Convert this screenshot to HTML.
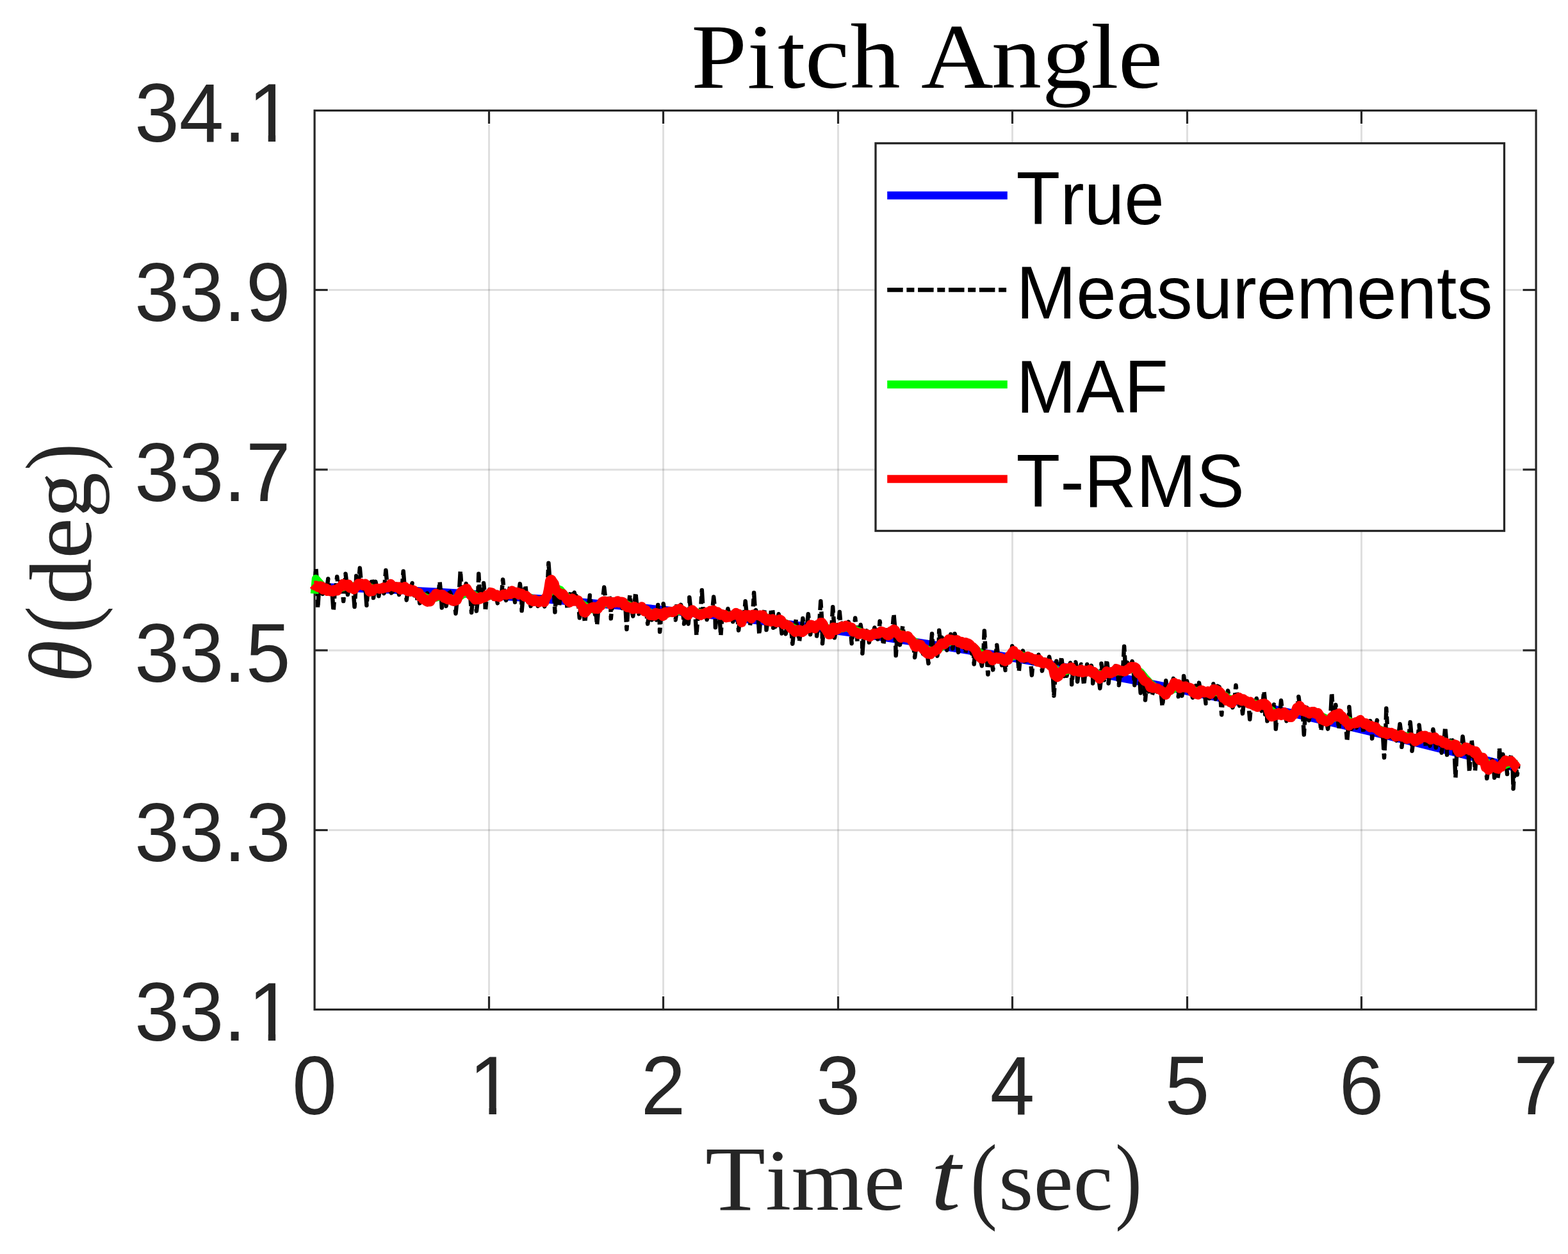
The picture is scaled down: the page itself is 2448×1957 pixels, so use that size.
<!DOCTYPE html>
<html lang="en"><head><meta charset="utf-8"><title>Pitch Angle</title>
<style>
html,body{margin:0;padding:0;background:#fff;}
body{width:2448px;height:1957px;overflow:hidden;}
svg{display:block;}
text{font-kerning:none;font-variant-ligatures:none;white-space:pre;}
.sans{font-family:"Liberation Sans",Arial,Helvetica,sans-serif;}
.serif{font-family:"Liberation Serif","Times New Roman",serif;}
.tick{font-size:125px;fill:#262626;}
.leg{font-size:112.5px;fill:#000;}
</style></head><body>
<svg width="2448" height="1957" viewBox="0 0 2448 1957">
<defs>
<clipPath id="nofoot"><rect x="-400" y="-120" width="520" height="109.36"/><rect x="-400" y="-120" width="407.16" height="160"/><rect x="31.23" y="-11.64" width="11.45" height="16.64"/></clipPath>
</defs>
<rect x="0" y="0" width="2448" height="1957" fill="#ffffff"/>
<g stroke="#262626" stroke-opacity="0.15" stroke-width="3" fill="none">
<line x1="763.5" y1="194.5" x2="763.5" y2="1553.5"/>
<line x1="1035.5" y1="194.5" x2="1035.5" y2="1553.5"/>
<line x1="1308.5" y1="194.5" x2="1308.5" y2="1553.5"/>
<line x1="1580.5" y1="194.5" x2="1580.5" y2="1553.5"/>
<line x1="1853.5" y1="194.5" x2="1853.5" y2="1553.5"/>
<line x1="2125.5" y1="194.5" x2="2125.5" y2="1553.5"/>
<line x1="513.0" y1="1295.5" x2="2376.0" y2="1295.5"/>
<line x1="513.0" y1="1014.9" x2="2376.0" y2="1014.9"/>
<line x1="513.0" y1="732.9" x2="2376.0" y2="732.9"/>
<line x1="513.0" y1="452.5" x2="2376.0" y2="452.5"/>
</g>
<g stroke="#262626" stroke-width="3.2" fill="none">
<rect x="491.1" y="172.5" width="1907.0" height="1403.0"/>
<line x1="763.5" y1="1575.5" x2="763.5" y2="1554.9"/>
<line x1="763.5" y1="172.5" x2="763.5" y2="193.1"/>
<line x1="1035.5" y1="1575.5" x2="1035.5" y2="1554.9"/>
<line x1="1035.5" y1="172.5" x2="1035.5" y2="193.1"/>
<line x1="1308.5" y1="1575.5" x2="1308.5" y2="1554.9"/>
<line x1="1308.5" y1="172.5" x2="1308.5" y2="193.1"/>
<line x1="1580.5" y1="1575.5" x2="1580.5" y2="1554.9"/>
<line x1="1580.5" y1="172.5" x2="1580.5" y2="193.1"/>
<line x1="1853.5" y1="1575.5" x2="1853.5" y2="1554.9"/>
<line x1="1853.5" y1="172.5" x2="1853.5" y2="193.1"/>
<line x1="2125.5" y1="1575.5" x2="2125.5" y2="1554.9"/>
<line x1="2125.5" y1="172.5" x2="2125.5" y2="193.1"/>
<line x1="491.1" y1="1295.5" x2="511.7" y2="1295.5"/>
<line x1="2398.0" y1="1295.5" x2="2377.4" y2="1295.5"/>
<line x1="491.1" y1="1014.9" x2="511.7" y2="1014.9"/>
<line x1="2398.0" y1="1014.9" x2="2377.4" y2="1014.9"/>
<line x1="491.1" y1="732.9" x2="511.7" y2="732.9"/>
<line x1="2398.0" y1="732.9" x2="2377.4" y2="732.9"/>
<line x1="491.1" y1="452.5" x2="511.7" y2="452.5"/>
<line x1="2398.0" y1="452.5" x2="2377.4" y2="452.5"/>
</g>
<g fill="none" stroke-linejoin="round" stroke-linecap="butt">
<path d="M491.0 916.0 L512.1 916.6 L533.2 917.2 L554.3 918.0 L575.4 918.8 L596.4 919.7 L617.5 920.6 L638.6 921.6 L659.7 922.7 L680.8 923.8 L701.9 925.0 L723.0 926.3 L744.1 927.6 L765.2 929.0 L786.3 930.4 L807.3 931.9 L828.4 933.5 L849.5 935.1 L870.6 936.8 L891.7 938.5 L912.8 940.3 L933.9 942.2 L955.0 944.1 L976.1 946.0 L997.2 948.1 L1018.2 950.1 L1039.3 952.3 L1060.4 954.5 L1081.5 956.7 L1102.6 959.0 L1123.7 961.4 L1144.8 963.8 L1165.9 966.3 L1187.0 968.8 L1208.1 971.4 L1229.1 974.0 L1250.2 976.7 L1271.3 979.5 L1292.4 982.3 L1313.5 985.2 L1334.6 988.1 L1355.7 991.1 L1376.8 994.1 L1397.9 997.2 L1419.0 1000.4 L1440.0 1003.6 L1461.1 1006.9 L1482.2 1010.2 L1503.3 1013.6 L1524.4 1017.1 L1545.5 1020.6 L1566.6 1024.2 L1587.7 1027.8 L1608.8 1031.5 L1629.9 1035.3 L1650.9 1039.1 L1672.0 1043.0 L1693.1 1046.9 L1714.2 1050.9 L1735.3 1054.9 L1756.4 1059.0 L1777.5 1063.2 L1798.6 1067.4 L1819.7 1071.7 L1840.8 1076.0 L1861.8 1080.3 L1882.9 1084.6 L1904.0 1088.9 L1925.1 1093.3 L1946.2 1097.7 L1967.3 1102.2 L1988.4 1106.7 L2009.5 1111.4 L2030.6 1116.2 L2051.7 1121.1 L2072.7 1126.0 L2093.8 1130.9 L2114.9 1135.9 L2136.0 1140.9 L2157.1 1146.0 L2178.2 1151.1 L2199.3 1156.2 L2220.4 1161.4 L2241.5 1166.7 L2262.6 1171.9 L2283.6 1177.2 L2304.7 1182.5 L2325.8 1187.8 L2346.9 1193.2 L2368.0 1198.5" stroke="#0000ff" stroke-width="12.5"/>
<path d="M493.5 913.8 L491.1 913.9 L493.3 887.1 L495.5 915.2 L496.1 949.2 L498.3 916.3 L501.7 917.5 L503.9 926.9 L506.1 919.0 L510.1 919.7 L512.3 903.3 L514.5 920.7 L518.4 922.1 L520.6 953.6 L522.8 921.8 L524.0 921.2 L526.2 899.9 L528.4 917.9 L534.0 913.9 L536.2 938.1 L538.4 912.6 L539.5 895.5 L541.7 913.4 L542.9 928.0 L545.1 915.1 L551.3 917.3 L553.5 947.0 L555.7 914.4 L556.2 898.8 L558.4 911.8 L559.6 911.2 L561.8 886.6 L564.0 910.7 L570.2 913.0 L572.4 944.7 L574.6 918.1 L578.5 922.4 L580.7 902.7 L582.9 920.8 L583.0 933.1 L585.2 919.0 L586.3 907.7 L588.5 919.0 L589.1 919.0 L591.3 930.3 L593.5 918.2 L600.2 915.3 L602.4 889.9 L604.6 914.4 L620.8 916.2 L623.0 928.0 L625.2 918.4 L627.5 918.8 L629.7 891.6 L631.9 917.9 L632.5 918.2 L634.7 936.4 L636.9 920.4 L653.1 926.3 L655.3 941.4 L657.5 932.1 L659.8 933.8 L662.0 943.6 L664.2 935.7 L684.3 928.6 L686.5 907.7 L688.7 929.4 L689.8 948.6 L692.0 930.8 L694.3 931.6 L696.5 945.9 L698.7 933.1 L709.3 937.5 L711.5 957.5 L713.7 935.4 L716.6 927.6 L718.8 891.0 L721.0 922.9 L733.9 926.6 L736.1 955.9 L738.3 932.3 L741.7 935.7 L743.9 953.6 L746.1 935.1 L747.3 895.5 L749.5 934.6 L752.9 933.1 L755.1 910.0 L757.3 931.3 L757.8 953.6 L760.0 929.4 L768.4 927.4 L770.6 934.7 L772.8 928.4 L774.6 929.1 L776.8 941.4 L779.0 931.0 L782.9 929.8 L785.1 904.4 L787.3 927.9 L787.9 927.9 L790.1 936.9 L792.3 927.9 L794.0 927.9 L796.2 915.5 L798.4 925.0 L801.8 923.8 L804.0 939.7 L806.2 925.3 L809.6 926.4 L811.8 911.1 L814.0 927.9 L814.6 953.1 L816.8 929.3 L818.0 929.9 L820.2 913.3 L822.4 932.2 L826.3 934.4 L828.5 945.9 L830.7 936.3 L837.5 937.9 L839.7 945.9 L841.9 937.9 L848.0 939.6 L850.2 946.4 L852.4 933.3 L854.2 928.9 L856.4 878.8 L858.6 908.0 L864.2 908.3 L866.4 955.3 L868.6 922.2 L870.9 925.2 L873.1 944.7 L875.3 927.4 L883.7 934.2 L885.9 950.9 L888.1 938.5 L889.2 938.1 L891.4 921.6 L893.6 936.6 L897.6 935.3 L899.8 930.0 L902.0 936.4 L902.6 936.9 L904.8 964.2 L907.0 941.6 L910.9 952.7 L913.1 971.5 L915.3 953.1 L918.7 950.9 L920.9 928.9 L923.1 949.4 L929.9 950.0 L932.1 975.4 L934.3 948.2 L941.0 935.7 L943.2 916.6 L945.4 935.7 L948.8 939.1 L951.0 928.9 L953.2 942.0 L953.8 965.3 L956.0 941.1 L969.5 939.4 L971.7 949.2 L973.9 941.9 L976.2 943.8 L978.4 982.0 L980.6 947.1 L981.2 947.6 L983.4 928.8 L985.6 950.0 L990.1 948.5 L992.3 924.9 L994.5 947.9 L995.1 947.9 L997.3 958.1 L999.5 948.4 L1001.2 949.3 L1003.4 943.3 L1005.6 951.8 L1009.0 955.2 L1011.2 973.6 L1013.4 959.0 L1022.4 959.2 L1024.6 967.5 L1026.8 959.6 L1027.3 943.9 L1029.5 960.0 L1030.1 985.9 L1032.3 959.6 L1033.5 959.2 L1035.7 942.2 L1037.9 957.8 L1038.5 964.2 L1040.7 957.0 L1044.6 955.8 L1046.8 961.4 L1049.0 955.1 L1052.4 954.4 L1054.6 967.5 L1056.8 952.9 L1056.3 941.1 L1058.5 952.4 L1060.8 952.0 L1063.0 943.9 L1065.2 951.2 L1065.8 952.1 L1068.0 973.6 L1070.2 958.3 L1072.4 960.0 L1074.6 973.6 L1076.8 953.9 L1076.3 932.2 L1078.5 952.4 L1085.2 955.1 L1087.4 991.5 L1089.6 959.0 L1093.6 959.0 L1095.8 921.0 L1098.0 957.7 L1101.4 956.8 L1103.6 967.0 L1105.8 956.8 L1106.4 956.8 L1108.6 946.1 L1110.8 954.6 L1112.0 953.8 L1114.2 931.6 L1116.4 953.5 L1116.9 979.2 L1119.1 954.8 L1123.1 957.2 L1125.3 992.0 L1127.5 960.1 L1134.2 962.4 L1136.4 950.0 L1138.6 960.9 L1142.0 959.8 L1144.2 970.3 L1146.4 958.3 L1150.9 959.3 L1153.1 983.7 L1155.3 965.1 L1161.5 965.3 L1163.7 938.3 L1165.9 959.8 L1168.7 961.3 L1170.9 975.9 L1173.1 963.5 L1174.9 961.8 L1177.1 924.9 L1179.3 958.8 L1183.2 958.1 L1185.4 990.3 L1187.6 960.1 L1191.6 962.9 L1193.8 951.7 L1196.0 966.5 L1196.5 983.1 L1198.7 967.9 L1202.1 967.9 L1204.3 951.1 L1206.5 968.4 L1206.1 952.2 L1208.3 969.0 L1207.2 979.7 L1209.4 969.4 L1213.4 969.6 L1215.6 958.3 L1217.8 968.1 L1218.4 967.9 L1220.6 988.6 L1222.8 972.3 L1224.5 974.1 L1226.7 989.2 L1228.9 975.9 L1235.1 981.5 L1237.3 1004.8 L1239.5 984.2 L1240.6 984.0 L1242.8 966.7 L1245.0 983.8 L1245.7 984.0 L1247.9 1000.9 L1250.1 985.2 L1251.2 985.6 L1253.4 965.0 L1255.6 983.8 L1259.6 981.4 L1261.8 958.3 L1264.0 977.8 L1265.1 990.3 L1267.3 977.5 L1270.7 978.7 L1272.9 968.3 L1275.1 976.4 L1275.1 992.5 L1277.3 974.6 L1279.1 973.9 L1281.3 938.3 L1283.5 973.2 L1284.0 1004.2 L1286.2 977.7 L1298.0 985.3 L1300.2 947.2 L1302.4 979.2 L1303.0 995.3 L1305.2 981.5 L1308.6 981.6 L1310.8 955.0 L1313.0 980.2 L1322.5 978.2 L1324.7 970.5 L1326.9 978.9 L1327.5 979.1 L1329.7 1004.2 L1331.9 983.5 L1333.0 984.6 L1335.2 964.4 L1337.4 986.8 L1338.6 1001.4 L1340.8 987.9 L1341.4 987.9 L1343.6 975.0 L1345.8 987.9 L1346.4 1019.8 L1348.6 988.6 L1350.9 989.2 L1353.1 984.5 L1355.3 990.5 L1356.9 1002.6 L1359.1 991.8 L1363.1 990.9 L1365.3 979.5 L1367.5 988.0 L1368.1 987.7 L1370.3 997.5 L1372.5 986.3 L1373.6 969.4 L1375.8 986.5 L1377.0 987.1 L1379.2 1006.4 L1381.4 989.1 L1382.0 989.2 L1384.2 983.3 L1386.4 990.0 L1393.2 983.6 L1395.4 958.3 L1397.6 984.0 L1398.7 1023.1 L1400.9 989.6 L1407.1 993.3 L1409.3 977.2 L1411.5 992.9 L1413.2 999.2 L1415.4 994.2 L1418.2 995.8 L1420.4 990.6 L1422.6 998.7 L1426.0 1005.4 L1428.2 1025.9 L1430.4 1007.3 L1438.8 1010.0 L1441.0 1020.4 L1443.2 1014.2 L1447.3 1017.5 L1449.5 1035.3 L1451.7 1019.4 L1452.8 1018.7 L1455.0 988.9 L1457.2 1015.7 L1461.2 1014.9 L1463.4 1023.6 L1465.6 1009.1 L1466.2 983.8 L1468.4 1005.5 L1476.2 1001.9 L1478.4 1014.6 L1480.6 999.8 L1485.1 999.0 L1487.3 1012.4 L1489.5 998.1 L1490.6 988.9 L1492.8 999.4 L1494.0 1000.1 L1496.2 1017.9 L1498.4 1002.5 L1505.1 1003.8 L1507.3 1019.1 L1509.5 1005.3 L1515.2 1007.2 L1517.4 1020.2 L1519.6 1010.1 L1520.7 1036.4 L1522.9 1013.5 L1530.7 1028.8 L1532.9 1039.2 L1535.1 1025.2 L1536.8 984.4 L1539.0 1021.4 L1540.2 1020.6 L1542.4 1052.6 L1544.6 1025.0 L1548.0 1027.8 L1550.2 1045.4 L1552.4 1028.2 L1554.1 1027.6 L1556.3 1006.7 L1558.5 1026.8 L1561.9 1026.9 L1564.1 1038.1 L1566.3 1030.4 L1567.5 1031.3 L1569.7 1045.9 L1571.9 1029.5 L1578.1 1023.0 L1580.3 1008.3 L1582.5 1017.6 L1588.6 1022.4 L1590.8 1047.6 L1593.0 1025.0 L1594.7 1025.6 L1596.9 1015.6 L1599.1 1024.7 L1608.7 1027.6 L1610.9 1053.7 L1613.1 1029.1 L1619.2 1031.1 L1621.4 1021.7 L1623.6 1031.9 L1624.8 1032.1 L1627.0 1047.0 L1629.2 1033.3 L1635.9 1034.6 L1638.1 1025.0 L1640.3 1037.1 L1643.2 1041.4 L1645.4 1085.8 L1647.6 1053.9 L1649.3 1031.7 L1651.5 1055.3 L1654.9 1051.9 L1657.1 1025.0 L1659.3 1045.1 L1663.2 1043.3 L1665.4 1054.8 L1667.6 1044.4 L1668.8 1044.2 L1671.0 1034.5 L1673.2 1044.2 L1673.2 1068.2 L1675.4 1045.5 L1677.1 1046.6 L1679.3 1033.4 L1681.5 1046.3 L1682.1 1063.7 L1684.3 1045.8 L1685.6 1045.9 L1687.8 1036.7 L1690.0 1047.7 L1692.2 1069.2 L1694.4 1048.6 L1695.0 1048.7 L1697.2 1036.7 L1699.4 1048.2 L1701.7 1047.3 L1703.9 1038.9 L1706.1 1048.5 L1706.2 1066.4 L1708.4 1049.6 L1715.1 1056.7 L1717.3 1074.2 L1719.5 1054.6 L1719.5 1035.6 L1721.7 1052.4 L1725.7 1049.8 L1727.9 1030.0 L1730.1 1048.2 L1730.6 1066.4 L1732.8 1048.7 L1739.0 1047.4 L1741.2 1039.5 L1743.4 1046.0 L1744.6 1046.7 L1746.8 1069.2 L1749.0 1048.9 L1752.9 1048.2 L1755.1 1008.8 L1757.3 1046.3 L1769.1 1039.4 L1771.3 1069.2 L1773.5 1043.9 L1778.5 1050.9 L1780.7 1081.5 L1782.9 1057.0 L1785.8 1060.9 L1788.0 1092.6 L1790.2 1066.2 L1791.3 1067.4 L1793.5 1079.2 L1795.7 1071.0 L1812.5 1079.7 L1814.7 1102.2 L1816.9 1083.0 L1818.1 1083.7 L1820.3 1062.3 L1822.5 1082.5 L1829.7 1071.3 L1831.9 1058.9 L1834.1 1066.9 L1837.5 1068.9 L1839.7 1087.0 L1841.9 1071.5 L1843.1 1072.2 L1845.3 1085.9 L1847.5 1073.2 L1848.1 1055.0 L1850.3 1072.7 L1854.2 1073.6 L1856.4 1083.7 L1858.6 1075.8 L1859.8 1076.9 L1862.0 1088.7 L1864.2 1081.3 L1869.8 1082.4 L1872.0 1065.6 L1874.2 1078.9 L1880.4 1079.7 L1882.6 1097.8 L1884.8 1080.7 L1892.1 1079.7 L1894.3 1067.3 L1896.5 1078.2 L1905.0 1083.1 L1907.2 1115.4 L1909.4 1087.1 L1914.9 1091.1 L1917.1 1077.9 L1919.3 1093.3 L1927.3 1093.0 L1929.5 1069.4 L1931.7 1089.5 L1932.8 1089.9 L1935.0 1101.4 L1937.2 1091.6 L1937.8 1091.8 L1940.0 1113.6 L1942.2 1093.3 L1949.0 1095.5 L1951.2 1122.6 L1953.4 1097.6 L1959.5 1100.2 L1961.7 1090.0 L1963.9 1101.0 L1971.2 1099.0 L1973.4 1078.9 L1975.6 1099.9 L1975.1 1114.8 L1977.3 1101.9 L1978.4 1125.3 L1980.6 1108.2 L1986.8 1118.7 L1989.0 1099.5 L1991.2 1116.0 L1991.8 1137.6 L1994.0 1114.8 L1997.9 1115.6 L2000.1 1093.3 L2002.3 1114.2 L2006.3 1114.4 L2008.5 1125.3 L2010.7 1116.2 L2025.2 1104.6 L2027.4 1087.2 L2029.6 1103.5 L2033.6 1107.4 L2035.8 1146.5 L2038.0 1111.0 L2041.4 1112.7 L2043.6 1124.2 L2045.8 1113.4 L2049.1 1112.9 L2051.3 1106.7 L2053.5 1113.2 L2060.3 1117.8 L2062.5 1140.4 L2064.7 1122.8 L2070.9 1124.9 L2073.1 1137.6 L2075.3 1122.9 L2077.0 1121.8 L2079.2 1081.1 L2081.4 1119.2 L2083.1 1118.2 L2085.3 1100.0 L2087.5 1116.4 L2088.1 1116.3 L2090.3 1137.6 L2092.5 1117.0 L2100.9 1126.9 L2103.1 1157.1 L2105.3 1131.3 L2106.4 1103.3 L2108.6 1129.1 L2120.9 1126.9 L2123.1 1120.0 L2125.3 1124.7 L2126.5 1125.5 L2128.7 1143.7 L2130.9 1129.1 L2137.1 1133.2 L2139.3 1125.1 L2141.5 1134.8 L2142.1 1152.6 L2144.3 1135.8 L2147.7 1136.9 L2149.9 1123.9 L2152.1 1138.9 L2158.8 1143.5 L2161.0 1182.3 L2163.2 1143.5 L2164.3 1105.6 L2166.5 1143.9 L2167.3 1144.2 L2169.5 1150.2 L2171.7 1145.6 L2177.8 1147.4 L2180.0 1155.8 L2182.2 1147.1 L2183.4 1146.7 L2185.6 1129.9 L2187.8 1146.1 L2188.4 1165.8 L2190.6 1148.4 L2199.5 1150.4 L2201.7 1127.1 L2203.9 1151.3 L2204.5 1171.9 L2206.7 1152.9 L2213.4 1152.9 L2215.6 1131.6 L2217.8 1151.1 L2224.0 1149.3 L2226.2 1166.4 L2228.4 1150.9 L2235.2 1152.7 L2237.4 1138.3 L2239.6 1151.2 L2241.8 1166.9 L2244.0 1154.2 L2248.5 1157.2 L2250.7 1174.7 L2252.9 1160.1 L2254.1 1160.3 L2256.3 1134.9 L2258.5 1161.0 L2259.1 1178.1 L2261.3 1161.0 L2265.8 1160.3 L2268.0 1155.5 L2270.2 1161.8 L2272.4 1213.7 L2274.6 1168.9 L2281.4 1172.9 L2283.6 1149.4 L2285.8 1168.5 L2291.9 1166.8 L2294.1 1204.8 L2296.3 1170.5 L2297.5 1154.4 L2299.7 1172.9 L2300.8 1173.5 L2303.0 1202.6 L2305.2 1175.7 L2319.2 1195.4 L2321.4 1214.8 L2323.6 1198.8 L2327.5 1196.4 L2329.7 1186.1 L2331.9 1196.4 L2333.1 1213.7 L2335.3 1199.1 L2335.9 1199.4 L2338.1 1214.8 L2340.3 1200.7 L2340.9 1167.2 L2343.1 1197.3 L2344.2 1195.9 L2346.4 1177.2 L2348.6 1190.0 L2350.9 1186.8 L2353.1 1208.1 L2355.3 1188.6 L2357.0 1189.2 L2359.2 1177.8 L2361.4 1190.1 L2362.6 1230.9 L2364.8 1192.9 L2365.8 1193.9 L2368.7 1209.2 L2370.2 1196.1 L2368.0 1196.1" stroke="#000000" stroke-width="6.5" stroke-dasharray="24.5 5.7 12 5.7"/>
<path d="M494.0 912.4 L497.1 916.5 L499.8 908.9 L502.2 917.6 L504.9 916.4 L507.2 911.4 L509.7 922.3 L512.6 921.8 L514.8 924.6 L517.7 921.3 L520.5 923.0 L523.2 921.9 L525.5 921.0 L527.7 919.8 L530.4 905.2 L533.1 918.4 L535.9 910.7 L538.6 912.6 L541.1 916.8 L544.1 914.5 L547.0 914.2 L549.5 920.7 L551.8 917.7 L554.8 913.7 L557.4 915.7 L559.6 910.3 L562.0 911.9 L565.2 907.4 L567.8 919.4 L570.8 914.8 L573.2 917.9 L576.4 923.0 L579.4 924.2 L581.7 922.7 L583.9 920.3 L586.7 917.9 L589.3 920.1 L591.7 921.7 L594.5 922.3 L596.9 920.7 L599.4 926.1 L601.9 914.4 L605.0 914.7 L608.0 919.4 L610.9 925.4 L613.3 923.1 L615.7 914.4 L618.2 909.6 L620.5 918.1 L623.0 918.6 L625.8 917.3 L628.9 919.9 L631.6 914.7 L634.0 917.3 L636.3 922.9 L638.8 915.2 L641.2 920.9 L643.6 910.0 L646.7 929.3 L649.3 918.4 L651.7 937.0 L654.1 928.8 L657.0 931.5 L659.8 937.1 L662.3 936.3 L664.6 938.4 L667.0 925.7 L669.8 932.2 L672.3 939.5 L674.5 933.4 L677.0 930.4 L679.3 930.3 L681.9 926.0 L684.5 928.2 L687.6 931.5 L690.5 929.8 L693.2 932.3 L695.5 932.4 L698.6 931.6 L700.8 921.6 L703.6 926.3 L706.1 938.8 L709.3 939.5 L712.3 938.0 L715.4 930.1 L718.4 921.4 L721.5 921.0 L724.6 928.7 L727.7 910.9 L730.7 924.6 L733.5 924.3 L736.3 929.0 L739.1 935.3 L742.3 936.9 L745.4 934.9 L748.3 933.0 L751.1 923.2 L753.4 934.2 L756.3 934.1 L759.0 930.6 L761.4 926.2 L764.2 920.2 L767.4 927.2 L769.9 927.9 L772.7 928.6 L775.8 930.7 L778.7 927.3 L781.2 935.0 L784.1 929.9 L787.1 929.8 L790.2 929.2 L793.0 926.7 L795.5 928.3 L798.5 926.5 L801.6 922.7 L804.1 920.8 L806.4 924.0 L808.9 926.6 L811.5 925.6 L814.0 926.4 L817.0 931.4 L819.3 930.3 L821.5 932.1 L824.4 932.1 L827.2 933.8 L829.4 938.9 L831.8 935.3 L834.8 937.9 L837.2 938.3 L840.1 938.4 L842.7 931.9 L845.7 932.4 L848.9 939.4 L851.5 934.4 L853.9 931.5 L856.8 916.3 L859.2 907.0 L862.1 910.3 L864.8 907.1 L867.4 916.1 L870.4 925.3 L873.6 927.3 L876.5 931.6 L879.3 933.4 L882.4 926.5 L885.5 939.1 L888.5 940.2 L891.3 936.7 L893.7 936.0 L896.6 924.7 L899.5 935.6 L902.7 940.8 L905.9 936.6 L908.4 943.1 L911.5 955.3 L913.8 953.0 L916.4 942.5 L919.1 949.8 L921.3 950.3 L924.3 947.0 L926.7 944.1 L929.0 958.9 L931.4 947.0 L934.4 947.8 L937.3 951.4 L940.5 936.2 L942.8 936.1 L945.3 937.9 L948.2 937.1 L951.2 939.8 L954.0 941.1 L957.0 946.2 L960.1 942.7 L963.3 949.8 L966.0 934.6 L968.8 938.6 L971.5 939.7 L974.6 942.3 L977.3 942.2 L980.1 948.7 L982.8 948.4 L985.5 949.3 L988.2 961.6 L990.6 947.2 L993.3 949.2 L996.3 949.3 L999.4 946.9 L1001.8 949.8 L1004.6 951.9 L1007.6 952.3 L1009.8 956.4 L1012.7 959.7 L1015.2 955.4 L1017.5 967.4 L1020.5 965.0 L1022.9 960.5 L1025.3 957.5 L1027.9 959.4 L1030.5 959.1 L1032.9 959.2 L1035.7 957.0 L1038.8 955.8 L1041.6 959.4 L1044.5 954.8 L1047.6 956.6 L1050.1 951.9 L1053.2 955.4 L1056.3 956.8 L1058.6 952.5 L1061.1 954.8 L1063.4 952.5 L1066.4 951.4 L1068.7 954.3 L1070.9 960.4 L1073.3 959.0 L1076.5 951.3 L1078.8 949.3 L1081.5 952.0 L1084.4 954.9 L1086.7 957.4 L1088.9 957.0 L1091.7 956.7 L1094.0 959.5 L1097.1 959.2 L1100.3 959.4 L1102.5 956.5 L1105.7 953.8 L1108.2 957.1 L1110.9 952.6 L1113.7 952.5 L1115.9 952.2 L1118.3 951.1 L1120.9 955.3 L1123.3 955.5 L1125.7 958.6 L1128.8 960.5 L1131.8 958.2 L1134.6 958.8 L1137.2 959.6 L1140.4 956.1 L1143.4 959.1 L1146.3 962.1 L1149.3 961.0 L1152.4 958.2 L1155.5 964.4 L1158.5 959.4 L1161.1 965.7 L1163.6 961.9 L1166.3 961.0 L1169.1 961.8 L1171.9 965.0 L1174.8 965.6 L1177.3 958.0 L1180.1 952.1 L1182.7 960.8 L1185.6 958.8 L1188.5 962.0 L1191.3 962.6 L1194.3 965.1 L1196.5 968.8 L1198.9 967.4 L1201.4 968.5 L1204.5 965.9 L1207.7 968.1 L1210.4 978.3 L1213.4 969.5 L1215.7 966.3 L1218.0 966.3 L1221.1 971.7 L1223.5 974.7 L1226.2 974.5 L1229.3 975.6 L1231.9 969.1 L1234.5 980.3 L1237.0 982.9 L1239.5 982.3 L1242.4 983.7 L1244.8 984.0 L1247.1 986.0 L1249.6 987.6 L1252.7 985.2 L1255.9 983.0 L1259.1 985.3 L1261.7 981.4 L1264.4 978.7 L1267.1 977.2 L1270.2 978.2 L1273.4 975.7 L1276.4 974.6 L1279.3 973.3 L1281.9 972.9 L1284.6 975.7 L1287.0 976.3 L1289.6 986.7 L1292.1 983.0 L1295.1 985.5 L1297.8 989.5 L1300.7 977.9 L1303.2 982.7 L1306.2 990.6 L1309.0 980.6 L1311.9 981.6 L1314.6 972.6 L1317.6 974.2 L1320.0 978.3 L1323.1 982.1 L1326.2 979.4 L1328.6 980.4 L1331.3 982.3 L1334.0 984.5 L1336.3 988.5 L1339.0 989.0 L1341.9 986.5 L1344.3 989.4 L1346.8 988.0 L1349.1 985.3 L1351.4 990.3 L1354.4 987.9 L1356.8 989.8 L1359.8 992.7 L1362.4 988.3 L1364.9 985.9 L1367.6 987.8 L1370.3 983.3 L1372.8 989.2 L1375.1 988.3 L1377.4 985.4 L1380.3 987.9 L1382.8 989.5 L1385.2 989.1 L1388.1 994.0 L1391.0 988.7 L1393.9 982.6 L1396.4 984.5 L1399.4 985.5 L1402.3 994.9 L1405.0 1006.4 L1408.2 990.9 L1410.8 993.2 L1413.3 992.1 L1415.9 997.9 L1418.4 994.3 L1420.9 996.4 L1423.5 1004.1 L1426.1 1006.4 L1429.1 1010.3 L1431.8 1010.3 L1434.2 998.1 L1437.2 1011.7 L1439.4 1009.7 L1442.1 1011.0 L1445.3 1013.8 L1448.1 1018.4 L1450.9 1019.3 L1453.9 1018.6 L1456.8 1016.4 L1459.9 1022.5 L1462.2 1016.0 L1465.2 1009.0 L1467.6 1004.5 L1470.6 994.9 L1473.2 1002.9 L1475.7 1004.9 L1478.4 999.6 L1481.1 999.2 L1484.3 989.9 L1486.9 999.9 L1489.9 995.7 L1492.9 1001.3 L1496.1 998.3 L1498.9 999.8 L1501.9 1001.7 L1504.5 1002.8 L1507.5 1005.1 L1510.7 1003.1 L1513.1 1009.1 L1515.7 1006.1 L1518.0 1012.3 L1520.5 1013.0 L1523.5 1016.5 L1525.8 1026.9 L1528.6 1028.7 L1531.7 1030.9 L1534.1 1027.0 L1536.5 1023.6 L1539.3 1024.1 L1541.7 1022.0 L1544.1 1025.7 L1547.1 1024.3 L1550.1 1031.0 L1552.8 1027.8 L1555.9 1030.7 L1558.4 1023.1 L1561.1 1025.5 L1563.5 1031.9 L1566.5 1031.9 L1569.1 1028.5 L1571.6 1029.3 L1574.8 1024.5 L1577.0 1020.6 L1579.7 1018.8 L1582.6 1019.7 L1585.4 1021.1 L1587.9 1022.6 L1590.4 1024.9 L1593.2 1023.6 L1596.4 1025.1 L1598.8 1027.0 L1601.7 1036.4 L1604.8 1026.4 L1607.8 1031.4 L1610.7 1029.0 L1613.0 1027.0 L1616.2 1030.9 L1618.9 1032.0 L1621.9 1030.5 L1624.6 1032.8 L1627.6 1032.4 L1630.0 1031.5 L1632.3 1032.4 L1635.4 1034.1 L1637.7 1036.1 L1640.2 1034.0 L1642.7 1041.3 L1645.6 1050.9 L1648.3 1055.9 L1651.4 1056.6 L1653.6 1045.4 L1656.2 1049.7 L1659.0 1044.3 L1661.6 1055.2 L1664.6 1044.3 L1667.1 1043.4 L1669.6 1043.0 L1672.4 1043.2 L1675.0 1046.8 L1677.8 1046.8 L1680.8 1047.6 L1683.3 1048.2 L1686.2 1045.4 L1688.7 1047.6 L1691.1 1047.3 L1693.4 1047.2 L1695.8 1046.3 L1698.4 1049.9 L1700.6 1040.8 L1703.1 1047.5 L1705.7 1049.0 L1708.0 1051.1 L1710.7 1048.5 L1713.5 1056.0 L1716.1 1054.6 L1718.6 1055.2 L1721.2 1053.1 L1724.1 1061.3 L1727.0 1048.5 L1729.8 1049.8 L1732.3 1048.8 L1735.2 1053.6 L1737.9 1051.5 L1740.9 1047.7 L1743.3 1043.7 L1746.2 1049.6 L1748.8 1047.7 L1751.5 1054.4 L1754.7 1049.8 L1757.4 1045.5 L1759.8 1033.9 L1762.9 1040.5 L1765.2 1039.0 L1767.6 1032.1 L1770.2 1038.5 L1773.3 1042.4 L1775.6 1051.9 L1778.8 1053.8 L1781.5 1058.0 L1784.3 1054.6 L1787.4 1062.3 L1790.6 1067.7 L1792.9 1066.5 L1796.0 1070.3 L1798.4 1085.4 L1801.2 1076.5 L1803.9 1072.4 L1806.2 1079.5 L1809.4 1077.3 L1812.5 1078.9 L1815.4 1080.8 L1818.3 1082.1 L1821.3 1085.0 L1823.5 1083.7 L1825.9 1085.4 L1828.5 1070.4 L1831.2 1069.4 L1833.7 1065.9 L1836.5 1066.0 L1838.7 1069.1 L1841.9 1070.6 L1844.7 1071.4 L1847.5 1073.5 L1850.4 1072.8 L1853.1 1063.0 L1856.3 1076.5 L1858.9 1073.0 L1861.5 1075.1 L1864.3 1079.8 L1867.0 1070.1 L1869.5 1084.0 L1871.8 1080.3 L1874.7 1074.8 L1877.5 1078.8 L1880.3 1078.1 L1882.6 1081.7 L1885.3 1082.1 L1887.9 1089.9 L1890.6 1083.4 L1893.0 1078.6 L1895.5 1079.7 L1897.7 1091.0 L1900.6 1070.8 L1903.7 1072.3 L1906.1 1085.8 L1909.0 1083.2 L1911.3 1083.4 L1914.3 1092.4 L1917.5 1093.9 L1919.7 1093.5 L1922.2 1099.6 L1924.5 1104.2 L1927.0 1091.2 L1929.6 1089.7 L1931.8 1089.2 L1934.9 1090.0 L1938.1 1093.9 L1941.2 1091.7 L1943.7 1094.5 L1946.9 1098.0 L1949.9 1095.2 L1952.5 1096.1 L1955.5 1099.4 L1958.7 1102.4 L1961.1 1103.1 L1964.2 1101.8 L1967.1 1101.3 L1969.6 1109.5 L1972.6 1096.4 L1974.9 1097.6 L1977.5 1098.4 L1979.8 1105.8 L1982.7 1120.3 L1985.1 1119.3 L1988.0 1119.8 L1991.0 1114.3 L1994.1 1116.8 L1996.9 1116.1 L2000.0 1116.6 L2002.8 1113.6 L2005.1 1122.4 L2008.3 1113.2 L2011.0 1117.1 L2013.3 1113.2 L2015.7 1114.5 L2018.7 1118.6 L2021.7 1113.3 L2024.1 1105.0 L2026.5 1106.5 L2029.6 1104.0 L2032.3 1106.0 L2035.2 1105.8 L2037.9 1113.8 L2040.3 1104.4 L2042.9 1112.0 L2045.7 1113.9 L2048.4 1111.0 L2051.5 1111.6 L2054.6 1107.1 L2057.0 1115.6 L2059.8 1116.2 L2062.3 1117.3 L2065.2 1124.4 L2068.2 1126.1 L2070.7 1127.0 L2073.4 1123.3 L2076.2 1122.3 L2079.2 1117.3 L2081.5 1117.5 L2083.9 1119.8 L2086.5 1116.8 L2089.2 1115.8 L2091.4 1119.4 L2094.5 1111.9 L2097.5 1118.7 L2100.0 1128.6 L2102.2 1129.4 L2104.7 1129.1 L2107.2 1128.6 L2110.0 1137.7 L2112.4 1132.8 L2114.8 1132.3 L2117.8 1135.6 L2120.8 1128.6 L2123.4 1126.3 L2125.8 1125.5 L2128.5 1127.0 L2131.5 1130.4 L2134.1 1130.9 L2137.1 1134.5 L2140.1 1134.7 L2142.5 1134.0 L2145.1 1139.2 L2147.4 1140.6 L2150.4 1139.1 L2153.3 1140.5 L2156.0 1146.8 L2158.5 1139.8 L2161.0 1144.5 L2163.6 1145.9 L2165.8 1143.4 L2168.4 1144.2 L2171.0 1144.9 L2173.9 1151.5 L2176.9 1141.1 L2179.6 1145.1 L2182.2 1149.2 L2185.2 1146.6 L2187.6 1147.5 L2190.3 1148.8 L2192.7 1153.7 L2195.4 1148.7 L2198.6 1156.6 L2201.5 1150.9 L2204.0 1150.5 L2206.3 1152.1 L2208.8 1148.8 L2211.0 1155.8 L2213.6 1154.1 L2216.7 1151.2 L2219.3 1146.0 L2221.6 1155.2 L2224.6 1148.5 L2227.5 1150.7 L2230.1 1151.1 L2232.6 1164.0 L2235.2 1154.5 L2238.1 1151.1 L2240.7 1151.9 L2243.2 1154.6 L2246.0 1156.3 L2248.2 1156.2 L2250.9 1160.5 L2253.3 1159.8 L2256.2 1159.3 L2259.1 1161.9 L2261.5 1161.9 L2264.5 1155.6 L2267.5 1161.2 L2269.9 1161.2 L2272.4 1164.7 L2274.6 1171.4 L2277.4 1175.6 L2280.4 1178.6 L2283.3 1170.8 L2286.4 1168.5 L2289.2 1176.3 L2292.4 1168.1 L2295.2 1168.6 L2297.5 1169.9 L2299.8 1173.7 L2302.4 1173.2 L2304.8 1177.3 L2307.2 1175.0 L2309.6 1190.4 L2312.4 1185.9 L2315.0 1187.4 L2317.6 1195.6 L2320.5 1199.2 L2323.2 1198.5 L2325.8 1196.5 L2328.4 1197.4 L2330.7 1196.1 L2333.4 1195.8 L2335.9 1198.3 L2338.3 1202.2 L2341.4 1199.6 L2344.2 1195.8 L2346.6 1195.5 L2349.2 1185.8 L2351.8 1184.2 L2354.6 1191.2 L2357.4 1188.1 L2360.2 1188.2 L2362.7 1191.8 L2365.7 1195.2" stroke="#000000" stroke-width="6.5" stroke-dasharray="24.5 5.7 12 5.7" stroke-dashoffset="17"/>
<path d="M491.0 926.5 L493.0 903.0 L505.5 917.2 L512.7 919.4 L520.0 920.7 L527.2 919.6 L534.5 916.9 L541.7 914.8 L549.0 914.9 L556.2 914.3 L563.5 913.2 L570.7 913.6 L578.0 916.8 L585.2 919.2 L592.5 919.2 L599.7 916.9 L607.0 915.0 L614.2 914.2 L621.4 915.2 L628.7 917.0 L635.9 919.2 L643.2 921.0 L650.4 924.0 L657.7 928.3 L664.9 932.6 L672.2 934.7 L679.4 933.0 L686.7 930.9 L693.9 930.5 L701.2 933.0 L708.4 935.0 L715.7 932.4 L722.9 927.3 L730.2 923.8 L737.4 926.7 L744.6 931.1 L751.9 933.6 L759.1 931.6 L766.4 929.3 L773.6 928.7 L780.9 928.9 L788.1 929.0 L795.4 927.4 L802.6 926.0 L809.9 926.0 L817.1 928.0 L824.4 931.3 L831.6 934.5 L838.9 936.8 L846.1 937.8 L853.4 931.0 L860.6 921.8 L867.8 917.6 L875.1 920.8 L882.3 929.9 L889.6 933.8 L896.8 936.3 L904.1 939.0 L911.3 944.2 L918.6 948.9 L925.8 951.1 L933.1 948.3 L940.3 943.7 L947.6 940.8 L954.8 938.9 L962.1 939.8 L969.3 940.1 L976.6 942.1 L983.8 945.6 L991.1 947.9 L998.3 948.9 L1005.5 950.9 L1012.8 954.9 L1020.0 958.1 L1027.3 959.8 L1034.5 959.0 L1041.8 957.8 L1049.0 956.0 L1056.3 954.1 L1063.5 953.7 L1070.8 954.9 L1078.0 955.0 L1085.3 956.4 L1092.5 956.3 L1099.8 957.7 L1107.0 956.7 L1114.3 955.3 L1121.5 955.9 L1128.7 957.9 L1136.0 960.1 L1143.2 960.3 L1150.5 960.8 L1157.7 962.3 L1165.0 963.2 L1172.2 962.9 L1179.5 960.3 L1186.7 960.6 L1194.0 962.4 L1201.2 965.6 L1208.5 968.2 L1215.7 969.1 L1223.0 971.2 L1230.2 974.6 L1237.5 979.3 L1244.7 982.7 L1251.9 984.2 L1259.2 982.5 L1266.4 980.4 L1273.7 977.5 L1280.9 976.3 L1288.2 979.0 L1295.4 981.4 L1302.7 983.5 L1309.9 981.6 L1317.2 979.9 L1324.4 979.5 L1331.7 981.3 L1338.9 984.4 L1346.2 987.4 L1353.4 989.3 L1360.7 990.0 L1367.9 989.3 L1375.1 988.4 L1382.4 988.0 L1389.6 987.2 L1396.9 987.7 L1404.1 988.8 L1411.4 991.8 L1418.6 995.5 L1425.9 1000.0 L1433.1 1004.4 L1440.4 1009.7 L1447.6 1013.5 L1454.9 1016.3 L1462.1 1014.7 L1469.4 1009.9 L1476.6 1004.8 L1483.9 1001.0 L1491.1 999.8 L1498.3 1000.7 L1505.6 1002.8 L1512.8 1005.3 L1520.1 1009.6 L1527.3 1016.9 L1534.6 1021.6 L1541.8 1025.1 L1549.1 1025.4 L1556.3 1026.7 L1563.6 1028.4 L1570.8 1028.0 L1578.1 1025.6 L1585.3 1023.1 L1592.6 1022.3 L1599.8 1024.3 L1607.1 1026.4 L1614.3 1028.1 L1621.5 1030.3 L1628.8 1032.3 L1636.0 1034.3 L1643.3 1040.6 L1650.5 1046.5 L1657.8 1049.0 L1665.0 1047.1 L1672.3 1044.7 L1679.5 1045.3 L1686.8 1046.4 L1694.0 1047.4 L1701.3 1048.0 L1708.5 1049.9 L1715.8 1051.9 L1723.0 1052.4 L1730.3 1051.1 L1737.5 1048.3 L1744.7 1047.9 L1752.0 1047.4 L1759.2 1046.2 L1766.5 1043.9 L1773.7 1044.5 L1781.0 1049.5 L1788.2 1058.2 L1795.5 1066.3 L1802.7 1072.0 L1810.0 1076.4 L1817.2 1079.7 L1824.5 1079.4 L1831.7 1075.7 L1839.0 1072.0 L1846.2 1070.9 L1853.5 1073.1 L1860.7 1076.1 L1867.9 1078.7 L1875.2 1080.1 L1882.4 1080.3 L1889.7 1079.6 L1896.9 1079.9 L1904.2 1081.4 L1911.4 1085.2 L1918.7 1090.2 L1925.9 1092.1 L1933.2 1092.3 L1940.4 1092.2 L1947.7 1093.8 L1954.9 1096.6 L1962.2 1098.9 L1969.4 1099.8 L1976.7 1102.6 L1983.9 1108.0 L1991.2 1113.2 L1998.4 1115.8 L2005.6 1115.1 L2012.9 1115.4 L2020.1 1113.1 L2027.4 1109.9 L2034.6 1108.2 L2041.9 1109.6 L2049.1 1112.3 L2056.4 1114.6 L2063.6 1118.2 L2070.9 1121.5 L2078.1 1122.2 L2085.4 1119.7 L2092.6 1118.7 L2099.9 1121.8 L2107.1 1125.6 L2114.4 1128.1 L2121.6 1127.2 L2128.8 1127.7 L2136.1 1129.9 L2143.3 1133.4 L2150.6 1137.0 L2157.8 1140.1 L2165.1 1142.8 L2172.3 1144.9 L2179.6 1146.0 L2186.8 1147.3 L2194.1 1148.5 L2201.3 1150.1 L2208.6 1152.0 L2215.8 1151.9 L2223.1 1151.5 L2230.3 1151.2 L2237.6 1151.7 L2244.8 1154.0 L2252.0 1156.6 L2259.3 1159.3 L2266.5 1161.0 L2273.8 1165.0 L2281.0 1167.9 L2288.3 1169.9 L2295.5 1170.1 L2302.8 1173.0 L2310.0 1179.0 L2317.3 1186.8 L2324.5 1192.7 L2331.8 1197.0 L2339.0 1197.7 L2346.3 1195.3 L2353.5 1192.3 L2360.8 1190.4 L2368.0 1192.4" stroke="#00ff00" stroke-width="12.5"/>
<path d="M489.0 912.0 L491.2 914.1 L493.4 913.7 L495.6 915.8 L497.8 916.8 L500.0 914.5 L502.2 915.0 L504.4 920.3 L506.6 917.7 L508.8 918.0 L511.0 922.6 L513.2 920.1 L515.4 922.9 L517.6 921.7 L519.8 923.4 L522.0 920.2 L524.2 921.9 L526.4 922.0 L528.6 917.8 L530.8 916.8 L533.0 915.1 L535.2 911.1 L537.4 914.4 L539.6 912.9 L541.8 912.3 L544.0 911.9 L546.2 917.7 L548.4 916.2 L550.6 918.3 L552.8 920.0 L555.0 916.5 L557.2 914.9 L559.4 910.7 L561.6 911.9 L563.8 910.4 L566.0 913.7 L568.2 914.0 L570.4 911.0 L572.6 913.8 L574.8 916.8 L577.0 923.4 L579.2 922.7 L581.4 922.7 L583.6 919.2 L585.8 919.0 L588.0 918.4 L590.2 918.2 L592.4 919.2 L594.6 918.1 L596.8 918.8 L599.0 916.6 L601.2 917.5 L603.4 916.6 L605.6 916.9 L607.8 914.6 L610.0 911.2 L612.2 914.5 L614.4 915.6 L616.6 916.4 L618.8 915.6 L621.0 917.5 L623.2 915.8 L625.4 920.4 L627.6 919.2 L629.8 917.1 L632.0 915.5 L634.2 921.0 L636.4 922.9 L638.6 918.9 L640.8 923.5 L643.0 921.8 L645.2 920.9 L647.4 922.3 L649.6 925.5 L651.8 926.6 L654.0 925.0 L656.2 931.5 L658.4 930.2 L660.6 935.6 L662.8 934.3 L665.0 938.1 L667.2 939.4 L669.4 936.5 L671.6 938.9 L673.8 934.7 L676.0 931.2 L678.2 931.5 L680.4 926.3 L682.6 927.1 L684.8 928.1 L687.0 929.3 L689.2 927.7 L691.4 927.9 L693.6 933.4 L695.8 931.1 L698.0 935.4 L700.2 935.9 L702.4 934.5 L704.6 936.4 L706.8 938.0 L709.0 938.3 L711.2 937.7 L713.4 936.6 L715.6 930.9 L717.8 927.0 L720.0 923.4 L722.2 921.9 L724.4 922.7 L726.6 919.1 L728.8 918.6 L731.0 922.7 L733.2 925.0 L735.4 929.7 L737.6 928.9 L739.8 933.3 L742.0 936.1 L744.2 932.7 L746.4 935.7 L748.6 935.4 L750.8 931.6 L753.0 933.8 L755.2 931.9 L757.4 932.2 L759.6 928.9 L761.8 929.4 L764.0 928.1 L766.2 924.4 L768.4 925.0 L770.6 928.7 L772.8 930.9 L775.0 927.9 L777.2 930.0 L779.4 931.7 L781.6 929.4 L783.8 928.7 L786.0 927.4 L788.2 927.2 L790.4 928.4 L792.6 926.8 L794.8 926.7 L797.0 927.4 L799.2 921.8 L801.4 924.1 L803.6 925.7 L805.8 924.1 L808.0 924.3 L810.2 928.3 L812.4 925.9 L814.6 926.4 L816.8 928.9 L819.0 931.5 L821.2 929.3 L823.4 931.8 L825.6 933.1 L827.8 937.1 L830.0 935.8 L832.2 938.7 L834.4 935.5 L836.6 937.0 L838.8 938.8 L841.0 940.1 L843.2 937.7 L845.4 937.2 L847.6 937.3 L849.8 940.0 L852.0 932.6 L854.2 930.4 L856.4 920.1 L858.6 906.1 L860.8 904.4 L863.0 908.0 L865.2 910.8 L867.4 919.7 L869.6 922.7 L871.8 924.3 L874.0 926.5 L876.2 928.8 L878.4 926.4 L880.6 929.0 L882.8 932.3 L885.0 936.1 L887.2 938.3 L889.4 940.4 L891.6 935.4 L893.8 933.8 L896.0 938.3 L898.2 937.2 L900.4 937.8 L902.6 936.6 L904.8 941.3 L907.0 944.1 L909.2 946.3 L911.4 955.4 L913.6 956.3 L915.8 953.6 L918.0 951.2 L920.2 949.2 L922.4 948.8 L924.6 947.6 L926.8 947.1 L929.0 950.3 L931.2 948.8 L933.4 950.4 L935.6 944.8 L937.8 945.8 L940.0 939.2 L942.2 938.1 L944.4 937.9 L946.6 939.1 L948.8 939.5 L951.0 938.6 L953.2 943.4 L955.4 939.4 L957.6 939.4 L959.8 940.7 L962.0 939.1 L964.2 937.7 L966.4 940.8 L968.6 939.7 L970.8 938.9 L973.0 939.8 L975.2 945.1 L977.4 944.8 L979.6 948.1 L981.8 947.1 L984.0 947.7 L986.2 949.9 L988.4 950.8 L990.6 946.4 L992.8 949.5 L995.0 950.3 L997.2 949.6 L999.4 950.2 L1001.6 946.7 L1003.8 951.3 L1006.0 954.2 L1008.2 951.8 L1010.4 955.3 L1012.6 957.1 L1014.8 960.3 L1017.0 960.6 L1019.2 960.1 L1021.4 961.1 L1023.6 956.3 L1025.8 957.0 L1028.0 957.7 L1030.2 958.0 L1032.4 957.2 L1034.6 961.5 L1036.8 960.1 L1039.0 955.1 L1041.2 956.8 L1043.4 955.2 L1045.6 954.6 L1047.8 954.4 L1050.0 955.7 L1052.2 954.9 L1054.4 952.9 L1056.6 951.3 L1058.8 951.3 L1061.0 949.8 L1063.2 951.9 L1065.4 952.8 L1067.6 954.2 L1069.8 955.7 L1072.0 957.9 L1074.2 960.3 L1076.4 955.7 L1078.6 953.9 L1080.8 951.7 L1083.0 954.0 L1085.2 955.7 L1087.4 957.3 L1089.6 958.3 L1091.8 959.0 L1094.0 960.2 L1096.2 957.9 L1098.4 958.7 L1100.6 956.7 L1102.8 955.4 L1105.0 957.0 L1107.2 957.9 L1109.4 953.1 L1111.6 953.6 L1113.8 952.2 L1116.0 955.4 L1118.2 956.8 L1120.4 954.8 L1122.6 959.1 L1124.8 960.0 L1127.0 958.5 L1129.2 960.5 L1131.4 959.3 L1133.6 963.9 L1135.8 962.8 L1138.0 963.3 L1140.2 962.0 L1142.4 960.6 L1144.6 960.2 L1146.8 958.5 L1149.0 956.3 L1151.2 959.9 L1153.4 958.0 L1155.6 963.7 L1157.8 971.4 L1160.0 964.6 L1162.2 962.1 L1164.4 959.4 L1166.6 961.3 L1168.8 959.6 L1171.0 960.9 L1173.2 965.4 L1175.4 959.1 L1177.6 961.0 L1179.8 959.6 L1182.0 960.2 L1184.2 960.5 L1186.4 959.8 L1188.6 962.5 L1190.8 959.7 L1193.0 965.6 L1195.2 966.0 L1197.4 968.9 L1199.6 965.7 L1201.8 969.3 L1204.0 970.3 L1206.2 965.8 L1208.4 968.1 L1210.6 970.1 L1212.8 971.6 L1215.0 967.6 L1217.2 966.5 L1219.4 967.5 L1221.6 971.8 L1223.8 974.8 L1226.0 974.3 L1228.2 974.9 L1230.4 975.8 L1232.6 977.2 L1234.8 980.7 L1237.0 981.9 L1239.2 984.3 L1241.4 986.6 L1243.6 983.1 L1245.8 985.4 L1248.0 982.7 L1250.2 986.3 L1252.4 986.8 L1254.6 985.3 L1256.8 983.3 L1259.0 981.8 L1261.2 980.9 L1263.4 980.5 L1265.6 975.0 L1267.8 975.4 L1270.0 979.8 L1272.2 981.0 L1274.4 977.0 L1276.6 974.9 L1278.8 975.2 L1281.0 971.4 L1283.2 971.5 L1285.4 974.6 L1287.6 980.3 L1289.8 982.8 L1292.0 986.8 L1294.2 990.3 L1296.4 990.1 L1298.6 982.5 L1300.8 979.1 L1303.0 979.2 L1305.2 983.5 L1307.4 982.5 L1309.6 980.0 L1311.8 979.0 L1314.0 977.2 L1316.2 979.1 L1318.4 977.9 L1320.6 976.1 L1322.8 977.5 L1325.0 977.6 L1327.2 980.5 L1329.4 979.0 L1331.6 985.9 L1333.8 984.9 L1336.0 986.6 L1338.2 987.0 L1340.4 989.8 L1342.6 989.7 L1344.8 988.3 L1347.0 988.0 L1349.2 990.0 L1351.4 991.4 L1353.6 989.4 L1355.8 992.0 L1358.0 994.0 L1360.2 992.0 L1362.4 989.8 L1364.6 988.4 L1366.8 989.6 L1369.0 988.4 L1371.2 989.3 L1373.4 988.0 L1375.6 985.0 L1377.8 985.8 L1380.0 987.3 L1382.2 987.5 L1384.4 990.8 L1386.6 992.0 L1388.8 991.0 L1391.0 984.8 L1393.2 985.6 L1395.4 981.9 L1397.6 983.6 L1399.8 988.4 L1402.0 989.7 L1404.2 992.0 L1406.4 995.4 L1408.6 991.6 L1410.8 991.9 L1413.0 993.9 L1415.2 995.2 L1417.4 992.5 L1419.6 995.8 L1421.8 997.8 L1424.0 1000.8 L1426.2 1004.2 L1428.4 1009.1 L1430.6 1009.7 L1432.8 1005.0 L1435.0 1005.7 L1437.2 1006.0 L1439.4 1009.5 L1441.6 1013.7 L1443.8 1012.5 L1446.0 1018.7 L1448.2 1020.6 L1450.4 1017.8 L1452.6 1021.3 L1454.8 1016.6 L1457.0 1017.4 L1459.2 1016.8 L1461.4 1013.7 L1463.6 1014.0 L1465.8 1009.5 L1468.0 1007.3 L1470.2 1003.8 L1472.4 1006.1 L1474.6 1005.7 L1476.8 1002.4 L1479.0 1000.2 L1481.2 997.5 L1483.4 999.3 L1485.6 998.1 L1487.8 999.7 L1490.0 999.0 L1492.2 999.3 L1494.4 998.6 L1496.6 1002.7 L1498.8 1003.3 L1501.0 1001.2 L1503.2 1005.5 L1505.4 1004.8 L1507.6 1002.6 L1509.8 1007.8 L1512.0 1004.1 L1514.2 1005.9 L1516.4 1008.8 L1518.6 1009.7 L1520.8 1011.7 L1523.0 1014.5 L1525.2 1018.9 L1527.4 1023.6 L1529.6 1025.6 L1531.8 1027.7 L1534.0 1028.1 L1536.2 1025.1 L1538.4 1022.2 L1540.6 1021.6 L1542.8 1022.0 L1545.0 1024.2 L1547.2 1026.6 L1549.4 1031.0 L1551.6 1025.9 L1553.8 1027.7 L1556.0 1025.5 L1558.2 1028.4 L1560.4 1026.0 L1562.6 1026.5 L1564.8 1028.6 L1567.0 1031.2 L1569.2 1032.1 L1571.4 1028.9 L1573.6 1030.3 L1575.8 1023.6 L1578.0 1021.8 L1580.2 1018.1 L1582.4 1015.5 L1584.6 1020.0 L1586.8 1021.9 L1589.0 1020.9 L1591.2 1022.2 L1593.4 1024.8 L1595.6 1026.8 L1597.8 1026.8 L1600.0 1026.1 L1602.2 1026.0 L1604.4 1024.2 L1606.6 1026.3 L1608.8 1025.9 L1611.0 1028.5 L1613.2 1029.5 L1615.4 1028.2 L1617.6 1029.2 L1619.8 1032.9 L1622.0 1029.0 L1624.2 1033.7 L1626.4 1034.6 L1628.6 1035.6 L1630.8 1033.2 L1633.0 1034.9 L1635.2 1035.1 L1637.4 1035.4 L1639.6 1038.7 L1641.8 1040.3 L1644.0 1043.0 L1646.2 1053.5 L1648.4 1054.9 L1650.6 1056.7 L1652.8 1055.2 L1655.0 1048.9 L1657.2 1050.0 L1659.4 1045.8 L1661.6 1042.6 L1663.8 1043.7 L1666.0 1044.2 L1668.2 1042.6 L1670.4 1044.0 L1672.6 1041.3 L1674.8 1045.2 L1677.0 1047.3 L1679.2 1046.3 L1681.4 1046.7 L1683.6 1048.5 L1685.8 1048.2 L1688.0 1044.9 L1690.2 1049.4 L1692.4 1048.9 L1694.6 1046.1 L1696.8 1048.2 L1699.0 1046.9 L1701.2 1045.1 L1703.4 1047.3 L1705.6 1050.6 L1707.8 1048.3 L1710.0 1052.8 L1712.2 1054.4 L1714.4 1053.8 L1716.6 1059.5 L1718.8 1055.9 L1721.0 1055.5 L1723.2 1052.6 L1725.4 1051.3 L1727.6 1047.6 L1729.8 1049.9 L1732.0 1051.0 L1734.2 1050.9 L1736.4 1048.1 L1738.6 1049.0 L1740.8 1046.5 L1743.0 1043.6 L1745.2 1044.5 L1747.4 1046.1 L1749.6 1047.1 L1751.8 1046.5 L1754.0 1047.9 L1756.2 1048.0 L1758.4 1046.0 L1760.6 1044.2 L1762.8 1044.2 L1765.0 1040.9 L1767.2 1040.4 L1769.4 1040.6 L1771.6 1041.0 L1773.8 1042.5 L1776.0 1049.6 L1778.2 1051.6 L1780.4 1052.7 L1782.6 1055.8 L1784.8 1059.8 L1787.0 1062.9 L1789.2 1063.5 L1791.4 1064.6 L1793.6 1067.6 L1795.8 1072.7 L1798.0 1070.8 L1800.2 1073.9 L1802.4 1073.7 L1804.6 1074.1 L1806.8 1073.9 L1809.0 1075.7 L1811.2 1076.6 L1813.4 1078.0 L1815.6 1080.0 L1817.8 1081.7 L1820.0 1084.4 L1822.2 1080.2 L1824.4 1078.2 L1826.6 1077.3 L1828.8 1072.6 L1831.0 1071.2 L1833.2 1065.3 L1835.4 1067.1 L1837.6 1068.3 L1839.8 1067.6 L1842.0 1074.2 L1844.2 1071.3 L1846.4 1071.1 L1848.6 1072.9 L1850.8 1070.7 L1853.0 1073.6 L1855.2 1073.2 L1857.4 1073.0 L1859.6 1074.2 L1861.8 1080.2 L1864.0 1079.9 L1866.2 1083.3 L1868.4 1082.0 L1870.6 1084.2 L1872.8 1078.9 L1875.0 1076.9 L1877.2 1077.3 L1879.4 1081.1 L1881.6 1080.8 L1883.8 1079.6 L1886.0 1078.6 L1888.2 1082.3 L1890.4 1083.1 L1892.6 1079.9 L1894.8 1075.5 L1897.0 1075.7 L1899.2 1076.5 L1901.4 1077.7 L1903.6 1079.2 L1905.8 1081.5 L1908.0 1086.8 L1910.2 1090.0 L1912.4 1087.9 L1914.6 1093.6 L1916.8 1091.9 L1919.0 1094.8 L1921.2 1096.5 L1923.4 1097.5 L1925.6 1092.4 L1927.8 1091.2 L1930.0 1090.3 L1932.2 1092.2 L1934.4 1088.2 L1936.6 1090.2 L1938.8 1094.1 L1941.0 1090.7 L1943.2 1093.0 L1945.4 1093.4 L1947.6 1096.1 L1949.8 1098.3 L1952.0 1095.1 L1954.2 1099.4 L1956.4 1100.4 L1958.6 1101.7 L1960.8 1100.9 L1963.0 1103.6 L1965.2 1100.0 L1967.4 1099.9 L1969.6 1098.2 L1971.8 1100.4 L1974.0 1097.8 L1976.2 1099.3 L1978.4 1101.4 L1980.6 1109.4 L1982.8 1116.0 L1985.0 1118.5 L1987.2 1118.3 L1989.4 1117.4 L1991.6 1113.7 L1993.8 1116.0 L1996.0 1112.6 L1998.2 1115.5 L2000.4 1116.4 L2002.6 1115.1 L2004.8 1111.6 L2007.0 1113.2 L2009.2 1117.5 L2011.4 1117.2 L2013.6 1119.5 L2015.8 1119.4 L2018.0 1114.8 L2020.2 1115.1 L2022.4 1110.8 L2024.6 1104.7 L2026.8 1103.5 L2029.0 1101.3 L2031.2 1104.5 L2033.4 1109.8 L2035.6 1106.9 L2037.8 1111.3 L2040.0 1110.3 L2042.2 1110.5 L2044.4 1114.0 L2046.6 1112.0 L2048.8 1110.5 L2051.0 1110.6 L2053.2 1113.9 L2055.4 1114.6 L2057.6 1112.5 L2059.8 1115.7 L2062.0 1122.5 L2064.2 1120.9 L2066.4 1124.5 L2068.6 1125.3 L2070.8 1126.4 L2073.0 1124.6 L2075.2 1124.5 L2077.4 1121.8 L2079.6 1118.5 L2081.8 1117.1 L2084.0 1115.3 L2086.2 1118.5 L2088.4 1114.1 L2090.6 1113.1 L2092.8 1119.9 L2095.0 1117.4 L2097.2 1123.5 L2099.4 1122.3 L2101.6 1127.4 L2103.8 1128.2 L2106.0 1132.7 L2108.2 1130.1 L2110.4 1128.7 L2112.6 1128.4 L2114.8 1129.4 L2117.0 1126.8 L2119.2 1128.3 L2121.4 1126.3 L2123.6 1123.3 L2125.8 1126.9 L2128.0 1127.3 L2130.2 1130.3 L2132.4 1128.4 L2134.6 1131.8 L2136.8 1132.8 L2139.0 1135.3 L2141.2 1132.4 L2143.4 1134.6 L2145.6 1136.1 L2147.8 1134.5 L2150.0 1138.0 L2152.2 1140.3 L2154.4 1140.4 L2156.6 1143.5 L2158.8 1144.1 L2161.0 1141.9 L2163.2 1142.6 L2165.4 1146.3 L2167.6 1143.4 L2169.8 1144.6 L2172.0 1143.4 L2174.2 1144.8 L2176.4 1145.1 L2178.6 1150.0 L2180.8 1148.8 L2183.0 1149.0 L2185.2 1149.0 L2187.4 1146.4 L2189.6 1150.0 L2191.8 1149.6 L2194.0 1150.7 L2196.2 1153.4 L2198.4 1152.8 L2200.6 1152.8 L2202.8 1150.6 L2205.0 1153.5 L2207.2 1152.7 L2209.4 1157.3 L2211.6 1156.0 L2213.8 1151.5 L2216.0 1154.2 L2218.2 1149.2 L2220.4 1148.1 L2222.6 1150.9 L2224.8 1147.9 L2227.0 1150.2 L2229.2 1152.1 L2231.4 1150.0 L2233.6 1154.6 L2235.8 1151.2 L2238.0 1151.4 L2240.2 1150.7 L2242.4 1154.4 L2244.6 1155.9 L2246.8 1154.8 L2249.0 1155.3 L2251.2 1157.8 L2253.4 1159.7 L2255.6 1158.2 L2257.8 1159.0 L2260.0 1162.6 L2262.2 1162.0 L2264.4 1163.2 L2266.6 1162.9 L2268.8 1163.1 L2271.0 1161.6 L2273.2 1162.3 L2275.4 1170.5 L2277.6 1174.1 L2279.8 1173.9 L2282.0 1172.5 L2284.2 1169.3 L2286.4 1169.9 L2288.6 1166.2 L2290.8 1166.8 L2293.0 1169.9 L2295.2 1171.3 L2297.4 1170.2 L2299.6 1171.4 L2301.8 1175.7 L2304.0 1172.3 L2306.2 1176.0 L2308.4 1183.7 L2310.6 1186.7 L2312.8 1183.7 L2315.0 1182.2 L2317.2 1188.2 L2319.4 1197.4 L2321.6 1197.6 L2323.8 1201.6 L2326.0 1199.2 L2328.2 1198.5 L2330.4 1192.5 L2332.6 1195.1 L2334.8 1195.9 L2337.0 1199.5 L2339.2 1200.1 L2341.4 1196.8 L2343.6 1197.0 L2345.8 1191.7 L2348.0 1189.8 L2350.2 1186.4 L2352.4 1189.1 L2354.6 1187.8 L2356.8 1187.8 L2359.0 1187.0 L2361.2 1189.6 L2363.4 1192.2 L2365.6 1194.7 L2367.8 1198.2 L2370.0 1199.6" stroke="#ff0000" stroke-width="15"/>
</g>
<g class="sans tick">
<text transform="translate(491.05,1739.3) scale(1,1.035)" text-anchor="middle">0</text>
<g transform="translate(732.24,1739.3) scale(1,1.035)"><text x="0" y="0" clip-path="url(#nofoot)">1</text></g>
<text transform="translate(1035.50,1739.3) scale(1,1.035)" text-anchor="middle">2</text>
<text transform="translate(1308.50,1739.3) scale(1,1.035)" text-anchor="middle">3</text>
<text transform="translate(1580.50,1739.3) scale(1,1.035)" text-anchor="middle">4</text>
<text transform="translate(1853.50,1739.3) scale(1,1.035)" text-anchor="middle">5</text>
<text transform="translate(2125.50,1739.3) scale(1,1.035)" text-anchor="middle">6</text>
<text transform="translate(2398.00,1739.3) scale(1,1.035)" text-anchor="middle">7</text>
<g transform="translate(387.48,1624.1) scale(1,1.035)"><text x="0" y="0" clip-path="url(#nofoot)"><tspan x="-177.27">33.</tspan><tspan x="0">1</tspan></text></g>
<text transform="translate(453.50,1344.1) scale(1,1.035)" text-anchor="end">33.3</text>
<text transform="translate(453.50,1063.5) scale(1,1.035)" text-anchor="end">33.5</text>
<text transform="translate(453.50,781.5) scale(1,1.035)" text-anchor="end">33.7</text>
<text transform="translate(453.50,501.1) scale(1,1.035)" text-anchor="end">33.9</text>
<g transform="translate(387.48,221.1) scale(1,1.035)"><text x="0" y="0" clip-path="url(#nofoot)"><tspan x="-177.27">34.</tspan><tspan x="0">1</tspan></text></g>
</g>
<g class="serif" fill="#000">
<text transform="translate(1076.0,137) scale(1.085,1)" font-size="144.0" x="2.9 83.4 127.1 166.6 231.7 282.7 333.6 435.1 507.6 577.9 617.3">Pitch Angle</text>
</g>
<g class="serif" fill="#262626">
<text><tspan x="1101" y="1888" font-size="135" textLength="312" lengthAdjust="spacingAndGlyphs"><tspan font-size="143">T</tspan>ime</tspan> <tspan x="1453" y="1888" font-size="150" font-style="italic" textLength="47" lengthAdjust="spacingAndGlyphs">t</tspan><tspan x="1515" y="1890" font-size="151" textLength="42" lengthAdjust="spacingAndGlyphs">(</tspan><tspan x="1559" y="1888" font-size="133" textLength="178.5" lengthAdjust="spacingAndGlyphs">sec</tspan><tspan x="1741" y="1890" font-size="151" textLength="42" lengthAdjust="spacingAndGlyphs">)</tspan></text>
</g>
<g class="serif" fill="#262626" transform="translate(142,1060) rotate(-90)">
<text><tspan x="-5" y="0" font-size="140" font-style="italic" textLength="66" lengthAdjust="spacingAndGlyphs">θ</tspan><tspan x="72" y="2" font-size="151" textLength="42" lengthAdjust="spacingAndGlyphs">(</tspan><tspan x="116.8" y="0" font-size="137.5" textLength="206" lengthAdjust="spacingAndGlyphs">deg</tspan><tspan x="326" y="2" font-size="151" textLength="42" lengthAdjust="spacingAndGlyphs">)</tspan></text>
</g>
<rect x="1367" y="223.6" width="981.5" height="604.9" fill="#fff" stroke="#262626" stroke-width="3.3"/>
<line x1="1385.2" y1="305.0" x2="1572.8" y2="305.0" stroke="#0000ff" stroke-width="12.4"/>
<text class="sans leg" transform="translate(1586.6,349.9) scale(1,1.035)">True</text>
<line x1="1385.2" y1="452.4" x2="1572.8" y2="452.4" stroke="#000" stroke-width="6.6" stroke-dasharray="24.5 5.7 12 5.7"/>
<text class="sans leg" transform="translate(1586.6,496.6) scale(1,1.035)">Measurements</text>
<line x1="1385.2" y1="600.0" x2="1572.8" y2="600.0" stroke="#00ff00" stroke-width="12.4"/>
<text class="sans leg" transform="translate(1586.6,644.1) scale(1,1.035)">MAF</text>
<line x1="1385.2" y1="747.5" x2="1572.8" y2="747.5" stroke="#ff0000" stroke-width="12.4"/>
<text class="sans leg" transform="translate(1586.6,790.9) scale(1,1.035)">T-RMS</text>
</svg>
</body></html>
